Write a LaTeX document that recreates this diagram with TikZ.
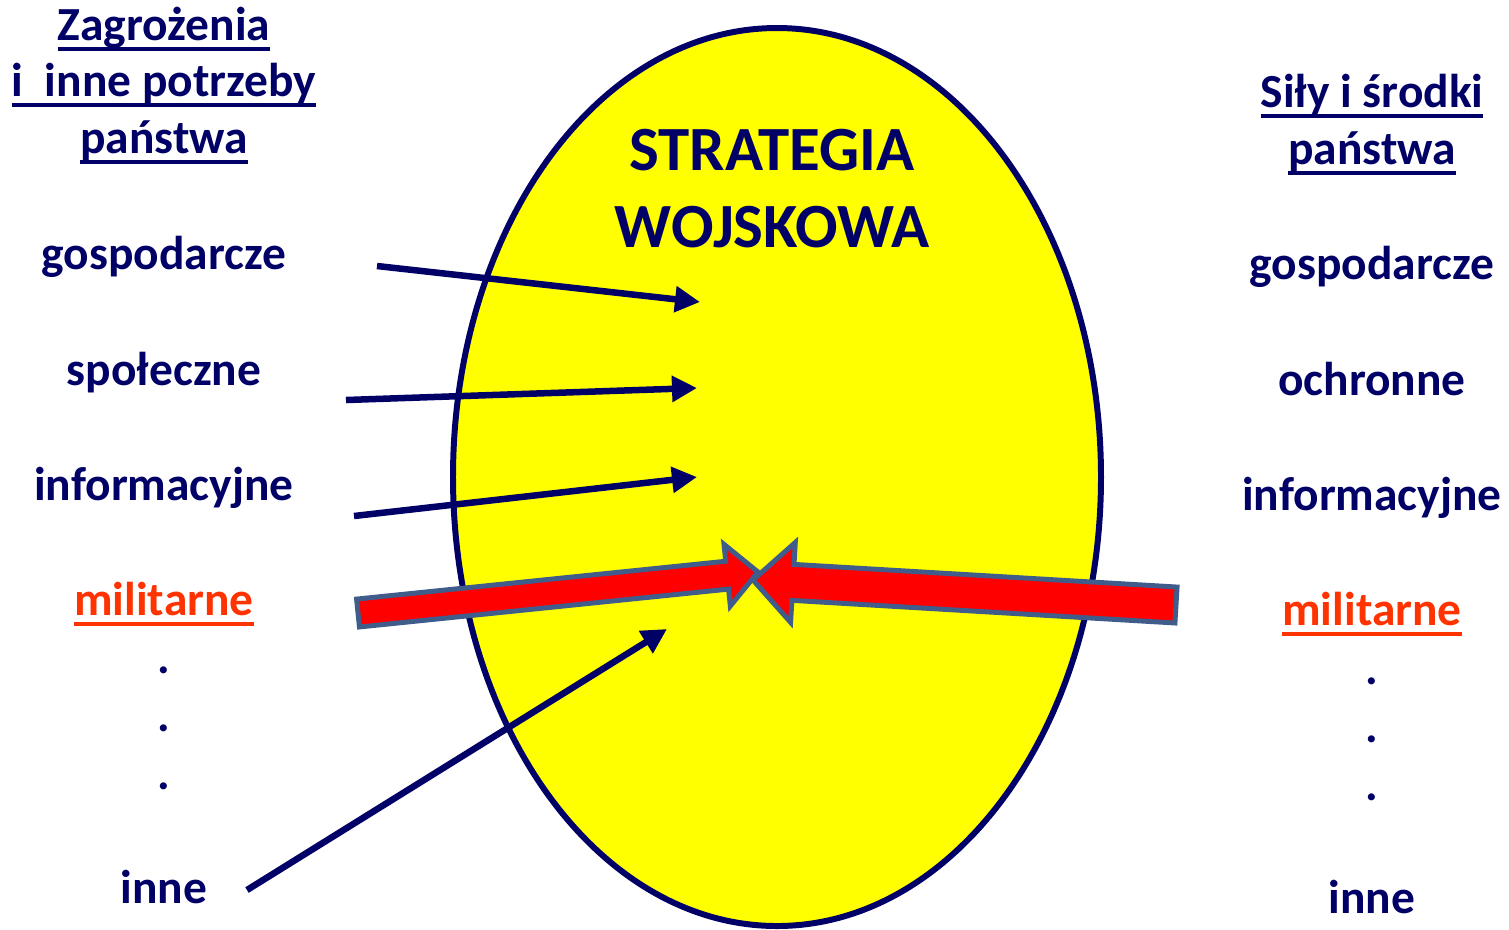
\documentclass[tikz,border=0pt]{standalone}
\usepackage{fontspec}
\setmainfont{Carlito}
\usetikzlibrary{arrows.meta,calc}
\definecolor{granat}{RGB}{0,0,102}
\definecolor{czerwony}{RGB}{255,51,0}
\definecolor{obrys}{RGB}{64,92,138}
\definecolor{zolty}{RGB}{255,255,0}
\newsavebox{\podkrbox}
\newcommand{\podkr}[1]{\sbox{\podkrbox}{#1}\rlap{\rule[-3pt]{\wd\podkrbox}{0.9pt}}\usebox{\podkrbox}}

\begin{document}
\begin{tikzpicture}[x=0.01cm,y=-0.01cm,
    tekst/.style={text=granat, font=\fontsize{13.5pt}{16pt}\selectfont\bfseries, anchor=base, inner sep=0pt},
    tytul/.style={text=granat, font=\fontsize{17.9pt}{21pt}\selectfont\bfseries, anchor=base, inner sep=0pt},
    strz/.style={granat, line width=0.065cm, -{Triangle[length=0.25cm,width=0.25cm]}},
    blok/.style={fill=red, draw=obrys, line width=1.4pt, line join=miter}
  ]
  \useasboundingbox (0,0) rectangle (1509,929);

  % Elipsa
  \draw[granat, line width=1.7pt, fill=zolty] (777,477) ellipse [x radius=324, y radius=449];
  \node[tytul] (str1) at (772,170) {STRATEGIA};
  \node[tytul] (str2) at (772,247) {WOJSKOWA};

  % Lewa kolumna
  \node[tekst] (zag1) at (164,40) {\podkr{Zagrożenia}};
  \node[tekst] (zag2) at (164,96) {\podkr{i\ \ inne potrzeby}};
  \node[tekst] (zag3) at (164,153) {\podkr{państwa}};
  \node[tekst] (lgos) at (164,269) {gospodarcze};
  \node[tekst] (lspo) at (164,385) {społeczne};
  \node[tekst] (linf) at (164,500) {informacyjne};
  \node[tekst, text=czerwony] (lmil) at (164,615) {\podkr{militarne}};
  \node[tekst] (lk1) at (164,673) {.};
  \node[tekst] (lk2) at (164,731) {.};
  \node[tekst] (lk3) at (164,789) {.};
  \node[tekst] (linn) at (164,903) {inne};

  % Prawa kolumna
  \node[tekst] (sil1) at (1372,107) {\podkr{Siły i środki}};
  \node[tekst] (sil2) at (1372,164) {\podkr{państwa}};
  \node[tekst] (pgos) at (1372,279) {gospodarcze};
  \node[tekst] (poch) at (1372,395) {ochronne};
  \node[tekst] (pinf) at (1372,510) {informacyjne};
  \node[tekst, text=czerwony] (pmil) at (1372,625) {\podkr{militarne}};
  \node[tekst] (pk1) at (1372,684) {.};
  \node[tekst] (pk2) at (1372,742) {.};
  \node[tekst] (pk3) at (1372,800) {.};
  \node[tekst] (pinn) at (1372,913) {inne};

  % Strzalki granatowe
  \coordinate (g1a) at (377,266);  \coordinate (g1b) at (700,302);
  \coordinate (g2a) at (346,400);  \coordinate (g2b) at (697,388);
  \coordinate (g3a) at (354,516);  \coordinate (g3b) at (697,477);
  \coordinate (g4a) at (247,890);  \coordinate (g4b) at (667,629);
  \draw[strz] (g1a) -- (g1b);
  \draw[strz] (g2a) -- (g2b);
  \draw[strz] (g3a) -- (g3b);
  \draw[strz] (g4a) -- (g4b);

  % Strzalki czerwone
  \coordinate (lT) at (358,613);  \coordinate (lP) at (758,572);
  \coordinate (lB) at ($(lP)!0.31cm!(lT)$);
  \draw[blok] ($(lT)!0.14cm!90:(lP)$) -- ($(lB)!0.14cm!90:(lP)$) -- ($(lB)!0.31cm!90:(lP)$)
    -- (lP) -- ($(lB)!0.31cm!-90:(lP)$) -- ($(lB)!0.14cm!-90:(lP)$) -- ($(lT)!0.14cm!-90:(lP)$) -- cycle;
  \coordinate (rT) at (1176,605);  \coordinate (rP) at (753,580);
  \coordinate (rB) at ($(rP)!0.40cm!(rT)$);
  \draw[blok] ($(rT)!0.18cm!90:(rP)$) -- ($(rB)!0.18cm!90:(rP)$) -- ($(rB)!0.40cm!90:(rP)$)
    -- (rP) -- ($(rB)!0.40cm!-90:(rP)$) -- ($(rB)!0.18cm!-90:(rP)$) -- ($(rT)!0.18cm!-90:(rP)$) -- cycle;
\end{tikzpicture}
\end{document}
